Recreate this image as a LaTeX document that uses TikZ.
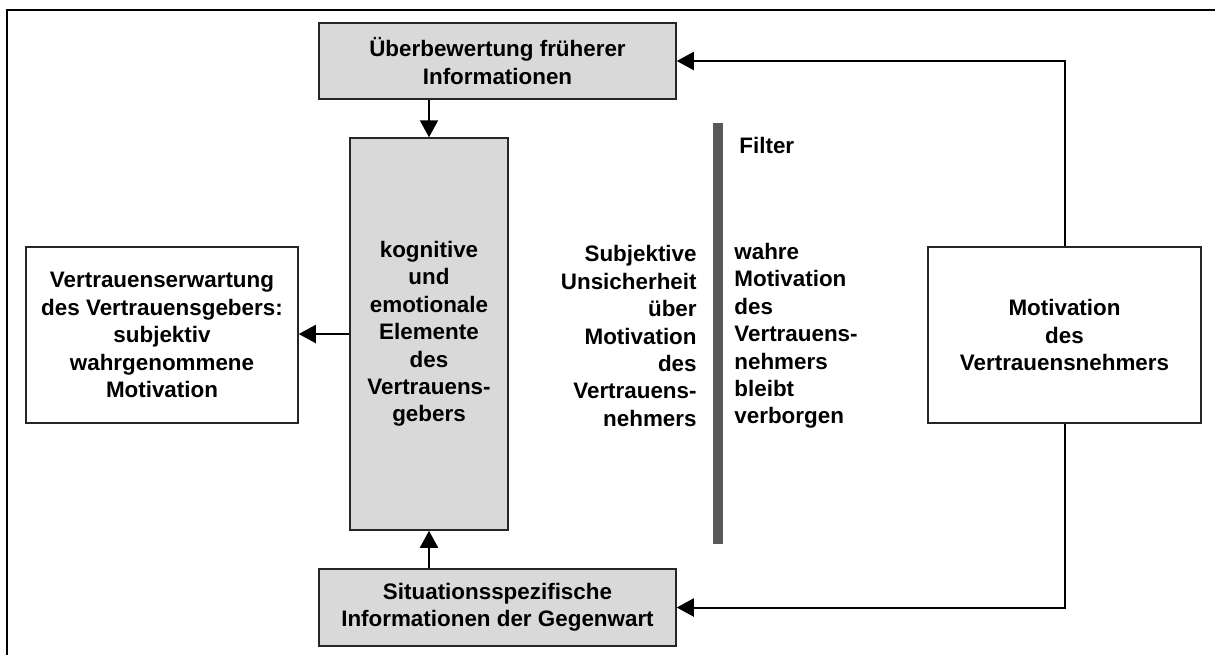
\documentclass[tikz,border=0pt]{standalone}
\usepackage{fontspec}
\setmainfont{Liberation Sans}
\usetikzlibrary{arrows.meta}
\definecolor{boxgray}{HTML}{D9D9D9}
\definecolor{filtergray}{HTML}{595959}
\begin{document}
\begin{tikzpicture}[x=0.5pt, y=-0.5pt,
        every node/.style={font=\bfseries\fontsize{11.2}{13.7}\selectfont},
        infobox/.style={draw=black!85, line width=0.75pt, fill=boxgray, align=center, inner sep=0pt},
        plainbox/.style={draw=black!85, line width=0.75pt, fill=white, align=center, inner sep=0pt},
        conn/.style={line width=1pt, -{Triangle[length=8.5pt, width=9pt]}}]
                \useasboundingbox (0, 0) rectangle (1215, 655);
                \draw [line width=1pt] (7, 655) -- (7, 10) -- (1215, 10);
                \node [infobox, minimum width=178.5pt, minimum height=38pt] (frueher) at (497.5, 61) {Überbewertung früherer\\Informationen};
                \node [infobox, minimum width=79pt, minimum height=196pt] (elemente) at (429, 334) {kognitive\\und\\emotionale\\Elemente\\des\\Vertrauens-\\gebers};
                \node [infobox, minimum width=178.5pt, minimum height=38.5pt] (gegenwart) at (497.5, 607.5) {Situationsspezifische\\Informationen der Gegenwart};
                \node [plainbox, minimum width=136pt, minimum height=88pt] (erwartung) at (162, 335) {Vertrauenserwartung\\des Vertrauensgebers:\\subjektiv\\wahrgenommene\\Motivation};
                \node [plainbox, minimum width=136.5pt, minimum height=88pt] (motivation) at (1064.5, 335) {Motivation\\des\\Vertrauensnehmers};
                \fill [filtergray] (713, 123) rectangle (723, 544);
                \node [anchor=west, inner sep=0pt] (filter) at (739, 145) {Filter};
                \node [anchor=east, align=right, inner sep=0pt] (unsicherheit) at (697, 336) {Subjektive\\Unsicherheit\\über\\Motivation\\des\\Vertrauens-\\nehmers};
                \node [anchor=west, align=left, inner sep=0pt] (verborgen) at (734, 336) {wahre\\Motivation\\des\\Vertrauens-\\nehmers\\bleibt\\verborgen};
                \draw [conn] (frueher.south -| elemente.north) -- (elemente.north);
                \draw [conn] (gegenwart.north -| elemente.south) -- (elemente.south);
                \draw [conn] (elemente.west) -- (elemente.west -| erwartung.east);
                \draw [conn] (motivation.north) |- (frueher.east);
                \draw [conn] (motivation.south) |- (gegenwart.east);
            \end{tikzpicture}
\end{document}
